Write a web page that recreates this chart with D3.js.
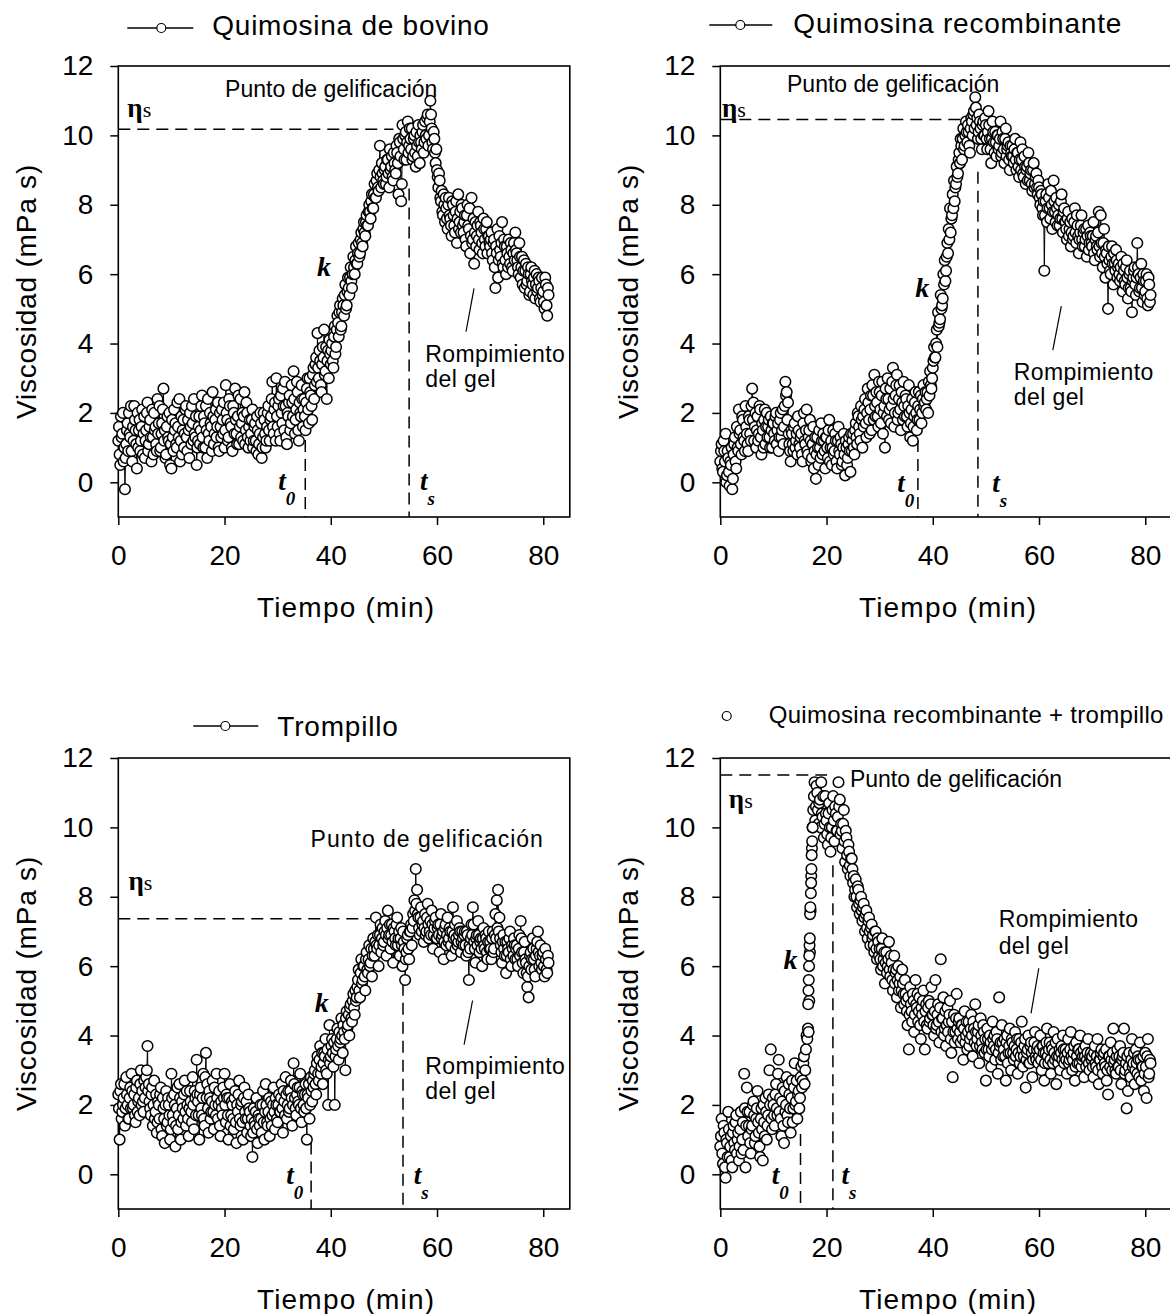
<!DOCTYPE html>
<html>
<head>
<meta charset="utf-8">
<script src="https://cdn.jsdelivr.net/npm/d3@7"></script>
<style>
  body { margin: 0; background: #fff; }
  svg text { fill: #000; }
</style>
</head>
<body>
<svg id="fig" width="1170" height="1314"></svg>
<script>
// lecturas cada 0.25 min (serie A, desde t=0) y serie B desplazada 0.125 min
const PASO_MIN = 0.25;
const DESFASE_B = 0.125;
const ticksTiempo = [0, 20, 40, 60, 80];
const ticksVisc = [0, 2, 4, 6, 8, 10, 12];

const visBovino = [
  1.2,0.8,1.9,1.4,0.6,-0.2,1.1,1.7,2.0,1.3,0.9,1.6,2.2,1.5,0.4,1.0,1.8,1.2,2.1,1.4,
  0.7,1.5,2.3,1.1,1.8,0.6,1.3,2.0,1.6,0.9,1.4,2.2,1.0,1.7,2.7,1.5,0.8,1.9,1.2,0.5,
  0.4,1.3,2.1,1.7,1.0,1.6,2.4,1.2,0.8,1.8,1.4,2.2,0.9,1.5,2.0,1.1,1.7,2.4,1.3,0.5,
  1.2,1.9,1.5,2.5,1.0,1.7,2.2,0.7,1.4,2.0,1.6,2.6,1.1,1.8,1.3,2.3,0.9,1.6,2.1,1.4,
  1.0,2.8,1.8,1.3,2.2,1.6,0.9,2.0,2.7,1.4,1.9,1.1,2.4,1.7,1.2,2.6,1.5,2.0,1.0,1.8,
  1.4,2.1,1.2,1.7,0.9,1.5,1.1,2.0,0.7,1.3,1.8,1.0,1.6,2.2,1.2,1.9,2.9,1.4,2.3,3.0,
  1.6,2.4,1.2,2.0,2.7,1.5,2.2,1.1,1.9,2.5,1.7,2.3,3.2,1.4,2.1,2.6,1.2,2.0,2.8,1.6,
  2.4,1.5,2.7,2.1,3.0,2.5,1.8,3.3,2.8,3.6,4.3,3.0,3.5,2.6,3.9,4.4,3.2,2.4,3.8,4.1,
  3.4,4.0,3.3,4.5,3.9,4.8,4.2,5.1,4.5,5.3,4.8,5.7,5.1,5.9,5.4,6.2,5.6,6.5,6.0,6.8,
  6.3,6.9,6.6,7.2,6.8,7.5,7.1,7.7,7.4,8.0,7.6,8.3,7.9,8.6,8.2,8.9,8.4,9.7,8.5,8.9,
  8.6,9.1,8.8,9.3,8.5,9.0,9.4,8.7,9.2,8.9,9.5,8.3,9.8,8.1,10.3,9.6,10.0,9.3,10.4,9.7,
  9.9,10.2,9.4,10.0,9.1,9.7,10.3,9.2,9.8,10.1,9.5,10.4,9.9,10.6,10.0,11.0,10.2,9.6,9.9,9.2,
  9.0,8.5,8.7,8.1,7.8,8.3,7.5,7.9,7.3,8.2,7.6,7.1,8.0,7.4,7.8,6.9,8.3,7.5,7.2,7.9,
  7.2,7.7,6.8,8.0,7.3,6.6,8.2,7.0,6.3,7.5,7.1,7.8,6.7,7.4,6.9,7.6,7.0,7.3,6.6,7.1,
  6.8,7.2,6.4,7.0,5.6,6.6,5.9,7.1,6.5,7.5,6.2,6.8,6.0,6.6,7.0,6.3,6.7,6.1,6.9,7.2,
  6.6,6.2,6.9,5.9,6.5,6.1,5.6,6.3,5.8,6.0,5.5,6.2,5.7,5.9,5.3,6.0,5.6,5.8,5.2,5.9,
  5.5,5.0,5.7,4.8,5.4
];
const visBovinoB = [
  1.6,0.5,1.3,2.0,1.0,0.7,1.5,0.9,1.4,2.2,0.6,1.2,1.8,1.1,2.0,1.5,0.9,1.6,0.8,1.9,
  1.2,2.0,0.9,1.6,1.3,2.1,0.8,1.5,1.1,2.4,1.7,0.9,1.4,2.1,1.2,0.7,1.6,1.3,2.0,1.1,
  1.8,0.9,1.5,1.1,2.3,1.3,0.6,1.9,1.5,1.0,2.1,1.3,1.8,0.7,1.6,2.2,1.2,1.4,1.9,1.0,
  1.6,1.1,2.2,1.3,1.9,1.0,1.5,2.4,1.2,1.7,0.9,1.9,1.4,2.1,1.6,1.0,2.0,1.3,1.8,2.3,
  1.5,2.0,1.2,2.4,1.7,1.0,2.2,1.4,1.8,1.1,2.5,1.6,1.3,2.0,1.9,1.1,2.3,1.3,1.6,1.2,
  1.8,1.0,1.6,1.2,1.9,0.8,1.4,1.7,1.0,2.0,1.4,1.2,2.0,1.5,1.8,2.4,1.6,2.1,1.2,1.9,
  2.2,1.4,2.5,1.7,2.2,2.9,1.3,2.0,2.3,1.5,2.8,1.9,2.4,1.8,2.9,1.5,2.3,1.9,2.4,2.1,
  1.9,2.3,3.0,1.7,2.6,2.2,3.1,2.4,3.4,2.9,3.3,3.8,2.8,3.4,3.6,3.1,3.9,3.5,3.0,3.7,
  3.8,3.5,4.2,3.7,4.4,4.6,4.9,4.4,4.9,5.1,5.4,5.0,5.5,5.6,5.9,5.8,6.0,6.2,6.4,6.3,
  6.6,6.5,7.0,6.9,7.3,7.2,7.5,7.4,7.8,7.8,8.1,7.9,8.3,8.2,8.7,8.5,9.0,8.8,9.2,8.7,
  9.0,8.6,9.3,8.9,9.6,9.1,8.8,9.5,9.0,9.7,9.2,9.9,9.4,8.6,9.9,9.3,10.1,9.8,9.5,10.2,
  9.6,9.3,9.9,9.5,10.1,9.4,9.8,10.0,9.6,10.3,9.8,10.0,10.5,9.7,10.4,10.6,9.8,10.1,9.5,9.6,
  8.8,8.9,8.2,8.4,7.7,8.0,8.2,7.6,8.0,7.7,7.4,8.1,7.7,7.2,8.1,7.6,7.3,7.8,8.0,7.4,
  7.5,7.0,7.7,7.4,7.9,7.1,6.9,7.6,7.2,6.8,7.4,7.0,7.5,7.2,6.6,7.3,6.8,7.5,7.1,6.9,
  7.0,6.6,6.9,6.2,6.8,7.3,6.4,6.7,6.9,6.3,7.0,6.4,6.8,6.2,6.5,6.9,6.2,6.6,6.4,6.7,
  6.4,6.0,6.5,6.2,5.7,6.4,6.1,5.7,6.2,5.4,6.0,5.8,5.4,6.1,5.7,5.5,5.9,5.3,5.6,5.4,
  5.2,5.9,5.1,5.6
];

const visRecombinante = [
  0.6,1.1,0.3,0.9,1.4,0.2,0.7,-0.1,0.5,-0.2,0.8,1.3,0.4,1.0,2.1,1.5,0.8,1.8,1.2,2.2,
  1.4,0.9,1.8,1.2,2.7,2.3,1.6,1.0,1.9,1.4,2.1,0.8,1.5,1.8,1.1,2.0,1.6,1.3,1.9,1.0,
  1.7,1.2,2.0,1.5,0.9,1.8,1.3,2.1,1.6,2.9,2.6,2.3,1.1,0.6,1.4,0.9,1.7,1.2,0.8,1.5,
  1.0,1.4,0.6,2.0,1.1,2.1,0.8,1.5,1.2,0.7,1.6,0.9,0.1,1.3,0.5,1.0,1.7,0.8,1.2,0.4,
  1.3,0.7,1.8,1.0,0.5,1.5,0.9,1.2,0.4,1.6,0.8,1.1,0.6,1.4,0.2,1.0,0.7,1.3,0.3,0.9,
  1.4,0.8,1.7,1.1,1.9,1.4,2.2,1.0,1.6,2.4,1.3,2.7,1.8,2.1,1.5,2.5,3.1,1.9,2.3,1.6,
  2.6,1.7,2.9,2.0,1.0,2.4,3.0,1.8,2.7,2.2,3.3,1.6,2.5,3.1,2.0,2.8,1.5,2.3,2.9,1.9,
  2.4,1.6,2.8,1.3,2.1,1.2,1.9,2.6,1.5,2.2,1.8,2.5,2.0,2.8,2.3,2.1,2.6,2.9,3.2,2.7,
  3.3,3.9,3.6,4.4,4.9,4.6,5.4,5.1,6.0,6.4,6.1,6.9,7.3,7.9,7.6,8.3,8.7,8.5,9.1,8.9,
  9.5,9.9,9.3,10.2,9.7,10.4,9.8,10.1,9.5,10.5,10.0,10.7,11.1,10.3,9.9,10.6,10.2,9.6,10.4,10.0,
  10.3,9.6,10.7,9.9,9.2,10.4,9.8,10.1,9.4,10.0,9.7,10.4,9.5,9.9,9.2,10.2,9.6,9.8,9.0,9.5,
  9.7,9.2,9.9,9.0,9.5,8.8,9.8,9.3,8.9,9.4,8.6,9.1,9.5,8.7,9.0,8.4,9.2,8.6,8.9,8.3,
  8.5,8.0,8.3,7.7,6.1,8.1,7.5,8.6,7.9,8.4,7.3,8.7,7.8,8.2,7.4,8.0,7.6,8.3,7.2,7.9,
  7.5,7.0,7.8,7.3,6.8,7.6,7.1,7.9,6.9,7.4,6.6,7.2,7.7,6.8,7.3,7.0,6.5,7.4,6.9,7.1,
  6.8,7.5,6.4,7.1,6.7,7.8,6.5,6.9,6.2,7.3,5.9,6.6,5.0,6.4,6.0,6.8,5.7,6.3,6.7,5.9,
  6.3,5.8,6.5,5.5,6.1,5.7,6.4,5.3,6.0,5.6,4.9,5.9,6.2,5.4,6.9,6.0,5.6,6.3,5.2,5.8,
  5.5,6.0,5.1,5.7,5.4
];
const visRecombinanteB = [
  0.9,0.4,1.2,0.6,0.0,0.9,0.3,0.6,1.0,0.1,1.1,0.6,1.6,0.9,1.4,1.1,1.9,1.3,0.9,1.6,
  1.1,1.9,1.4,2.2,1.8,1.2,2.0,1.5,1.2,2.2,1.3,1.7,1.0,2.1,1.6,1.3,1.8,1.0,1.5,1.7,
  1.4,1.9,1.1,1.7,1.3,2.0,1.5,1.1,2.2,2.5,1.8,1.4,0.9,1.5,1.1,1.6,1.0,1.4,1.9,1.1,
  1.3,0.8,1.7,1.2,1.5,0.9,1.3,1.8,0.6,1.1,0.4,1.3,0.8,1.0,1.5,0.7,1.2,1.4,0.9,1.3,
  1.0,1.5,0.6,1.2,1.0,0.8,1.4,0.6,1.2,0.9,1.3,0.5,1.0,0.8,1.2,0.5,1.1,0.9,1.4,1.2,
  1.0,1.5,1.3,2.0,1.6,1.2,1.8,1.9,2.1,1.7,2.0,2.3,1.4,2.5,2.8,1.8,2.2,2.6,1.9,2.9,
  2.1,2.5,1.4,2.2,2.7,1.9,2.4,2.1,1.7,2.9,2.4,2.0,2.8,1.8,2.4,2.1,2.6,1.8,2.2,2.5,
  1.9,2.2,2.0,1.7,2.4,1.6,2.3,2.0,1.8,2.6,2.1,1.7,2.4,2.2,2.6,2.4,2.0,2.5,2.8,3.0,
  3.5,3.6,4.0,3.9,4.5,4.7,5.0,5.3,5.7,5.8,6.5,6.6,7.0,7.2,7.7,7.9,8.1,8.6,8.8,9.3,
  9.2,9.7,9.9,9.6,10.0,10.1,10.3,9.7,10.2,10.4,10.6,10.2,10.8,10.5,10.1,10.4,9.9,10.3,10.0,10.5,
  9.9,10.1,10.3,9.6,9.9,10.1,9.5,9.8,10.0,9.6,9.9,9.4,10.1,9.6,9.9,9.4,9.7,9.3,9.7,9.4,
  9.4,9.6,9.3,9.5,9.1,9.3,9.0,9.6,8.8,9.1,9.0,8.7,9.2,8.9,8.6,9.0,8.5,8.8,8.5,8.7,
  8.2,8.4,7.9,8.1,7.7,8.3,7.9,8.2,7.6,8.0,7.8,8.1,7.5,7.9,7.7,7.4,8.1,7.6,7.8,7.5,
  7.3,7.6,7.1,7.5,7.2,7.0,7.5,7.2,7.7,7.1,7.0,7.4,7.0,7.2,6.8,7.3,7.1,6.7,7.2,6.9,
  7.1,6.6,7.0,6.8,7.2,6.8,7.7,6.6,6.9,6.5,6.7,6.3,6.8,6.1,6.5,6.3,6.6,6.1,6.4,6.2,
  6.0,6.2,5.9,6.3,5.8,6.2,5.9,5.6,6.1,5.5,5.8,6.1,5.7,5.9,6.2,5.5,5.9,5.6,6.0,5.4,
  5.8,5.3,5.9,5.2
];

const visTrompillo = [
  2.3,1.0,2.6,1.8,2.2,1.4,2.8,2.0,1.6,2.5,2.9,1.9,2.3,1.5,2.7,2.1,1.7,3.0,2.4,1.8,
  2.2,2.8,3.7,2.6,1.9,2.3,1.4,2.7,1.8,1.2,2.1,1.6,2.5,1.1,1.9,0.9,2.4,1.5,2.0,1.0,
  2.9,1.7,2.3,0.8,1.9,1.3,2.6,1.0,2.1,1.6,2.7,1.4,2.0,1.1,2.4,1.8,2.8,1.3,2.2,3.3,
  2.1,1.0,2.5,1.7,2.9,1.4,3.5,2.6,1.2,2.2,1.8,2.7,1.3,2.0,2.9,1.6,2.4,1.1,1.9,2.5,
  2.9,1.5,2.2,1.0,2.6,1.7,2.0,1.3,2.4,0.9,1.8,2.7,1.4,2.1,1.0,2.5,1.6,1.2,2.3,1.8,
  1.1,0.5,1.9,1.4,2.2,0.9,1.6,2.0,1.2,2.4,1.0,2.6,1.5,1.8,1.1,2.1,1.7,2.5,1.3,2.0,
  1.5,2.3,1.8,2.6,1.2,2.1,2.8,1.6,2.4,1.9,2.7,1.4,3.2,2.2,1.7,2.5,2.0,2.9,1.5,2.3,
  1.8,2.6,1.0,2.2,1.6,2.8,2.1,2.5,3.0,2.3,3.4,2.7,3.7,3.1,2.6,3.5,3.9,2.9,2.0,4.3,
  3.4,3.9,3.1,2.0,3.6,4.2,3.3,3.8,4.5,3.5,4.1,3.0,4.7,4.3,4.0,4.9,4.4,5.2,4.6,5.0,
  5.4,5.9,5.1,6.2,5.6,6.0,5.3,6.4,5.8,6.6,6.1,5.7,6.8,6.3,7.4,6.5,6.0,6.9,6.4,7.1,
  6.7,7.3,6.3,7.6,6.9,6.5,7.2,6.1,7.0,6.6,7.4,6.8,6.3,7.1,6.0,6.7,5.6,6.4,6.9,6.2,
  7.0,6.6,7.5,7.9,8.8,8.2,7.4,6.9,7.7,7.2,6.7,7.5,7.0,7.8,6.8,7.3,7.6,6.5,7.1,7.4,
  6.8,7.2,6.4,7.5,6.9,6.2,7.1,6.6,7.4,6.8,7.0,6.3,7.7,6.9,6.5,7.3,6.7,7.1,6.4,7.0,
  6.6,7.0,6.3,6.9,5.6,6.5,7.2,7.7,6.7,6.1,6.9,7.3,6.4,6.8,6.0,7.1,6.5,6.8,6.2,7.0,
  6.7,6.2,7.0,6.5,7.5,7.9,8.2,7.4,6.6,6.1,6.9,6.3,5.8,6.7,6.4,7.0,6.0,6.5,6.8,6.2,
  6.6,6.0,6.9,7.3,6.4,5.8,6.7,6.1,5.4,5.1,6.3,5.9,6.8,6.2,5.7,6.5,7.0,6.0,6.6,5.9,
  6.4,5.7,6.2,5.8,6.1
];
const visTrompilloB = [
  1.9,2.4,1.6,2.0,2.6,1.9,2.3,1.6,2.2,1.9,2.4,2.0,1.7,2.5,1.8,2.2,2.6,2.0,2.1,2.7,
  2.5,3.0,2.4,2.1,1.7,2.5,2.0,1.6,2.3,1.5,2.0,2.3,1.3,2.2,1.6,2.0,1.4,2.2,1.7,1.3,
  2.2,1.5,2.0,1.4,2.5,1.7,2.2,1.5,1.9,2.3,1.8,2.4,1.6,1.9,2.1,1.5,2.0,2.4,1.7,2.3,
  1.7,2.3,1.9,2.2,1.6,2.8,2.2,1.9,2.4,1.6,2.1,1.8,2.5,1.7,2.2,2.0,1.4,2.1,1.7,2.2,
  2.0,2.3,1.7,2.2,1.4,2.1,1.6,2.2,1.5,2.0,2.3,1.6,2.0,1.5,2.2,1.8,2.1,1.6,1.9,1.4,
  1.6,1.2,1.5,1.8,1.3,1.7,1.4,1.6,2.0,1.5,1.8,2.0,1.4,2.2,1.6,1.4,2.0,1.8,2.2,1.6,
  2.0,1.8,2.2,1.9,2.4,1.7,2.3,2.0,1.8,2.4,2.2,2.0,2.6,1.9,2.3,2.1,2.5,1.9,2.4,2.0,
  2.3,1.9,2.3,2.6,2.0,2.4,2.7,2.9,2.6,3.2,2.9,3.3,2.9,3.5,3.2,3.4,3.0,3.6,3.3,3.2,
  3.7,3.5,3.8,3.4,3.9,3.7,4.1,3.9,4.0,4.3,3.9,4.5,4.2,4.6,4.8,4.5,5.0,4.8,5.3,5.1,
  5.6,5.3,5.8,5.5,6.0,5.7,6.2,5.9,6.2,6.0,6.5,6.3,6.5,6.7,6.6,6.9,6.6,7.2,6.8,6.6,
  7.0,6.9,7.1,6.8,7.2,6.9,6.7,7.1,6.8,7.2,6.6,7.0,6.8,6.6,7.0,6.5,6.2,6.8,6.5,7.0,
  7.2,7.1,7.3,7.6,7.8,7.5,7.1,7.4,7.0,7.3,7.1,6.9,7.4,7.2,7.0,6.9,7.2,6.9,7.3,6.8,
  7.1,6.9,7.2,6.8,7.0,6.7,7.2,6.9,6.7,7.1,6.6,7.0,6.8,7.2,6.8,6.6,6.9,7.0,6.7,6.8,
  6.9,6.6,7.0,6.4,6.6,6.8,6.9,7.2,6.5,6.8,6.6,6.9,6.7,6.5,6.8,6.6,6.9,6.4,6.7,6.5,
  6.5,6.8,6.4,6.9,6.8,7.1,7.0,6.8,6.4,6.7,6.5,6.7,6.3,6.5,6.8,6.2,6.6,6.3,6.6,6.5,
  6.2,6.5,6.3,6.8,6.1,6.4,6.2,5.8,5.7,6.0,6.4,6.2,6.5,5.9,6.3,6.7,6.4,6.3,6.1,6.3,
  6.0,6.5,5.9,6.3
];

const visMezcla = [
  0.8,1.6,0.3,1.2,-0.1,0.9,1.8,0.5,1.1,0.2,1.4,0.7,1.7,1.0,0.4,1.3,0.6,1.5,2.9,0.2,
  2.5,1.1,1.8,0.6,1.4,2.1,0.9,1.6,2.4,1.2,0.5,1.9,0.4,1.5,2.2,1.0,1.7,3.0,3.6,1.3,
  2.0,1.4,2.6,1.7,3.3,2.2,1.1,2.5,0.9,1.8,2.8,1.5,2.3,1.2,2.7,1.9,3.2,2.1,1.6,2.4,
  2.2,3.1,2.7,3.4,3.0,4.0,4.2,5.0,7.6,9.4,10.5,11.3,10.6,11.0,10.1,10.8,11.3,10.3,9.7,10.9,
  10.2,9.5,10.7,9.3,10.0,10.9,9.6,10.4,9.9,11.3,10.8,10.1,9.4,10.5,9.0,9.7,8.8,9.3,8.6,9.1,
  8.4,8.0,8.5,7.7,8.2,7.5,8.0,7.3,7.8,7.0,7.6,6.8,7.4,6.6,7.2,6.9,6.4,7.0,6.2,6.7,
  6.5,5.9,6.8,6.2,5.5,6.4,6.0,6.7,5.7,6.1,5.3,6.3,5.8,5.1,6.0,5.5,4.8,5.9,5.2,5.6,
  5.0,4.3,3.6,5.4,4.7,5.2,4.1,5.6,4.8,4.4,5.1,3.9,4.6,5.3,3.6,4.9,4.2,5.0,4.5,5.4,
  4.6,4.0,5.6,4.3,4.9,3.8,6.2,4.5,5.1,4.2,3.7,4.8,4.4,5.0,3.5,2.8,4.6,4.1,5.2,3.9,
  4.5,3.8,4.3,3.3,4.7,4.0,3.6,4.4,3.9,4.6,3.4,4.2,4.9,3.7,4.1,3.2,4.5,3.8,4.3,3.5,
  2.7,4.2,3.6,4.0,3.1,4.4,3.7,3.3,4.1,2.9,5.1,3.8,4.3,3.4,3.9,2.7,4.0,3.5,4.2,3.0,
  3.8,3.3,4.1,3.6,2.9,3.9,3.4,4.4,3.1,3.7,2.5,3.5,4.0,3.2,3.8,2.8,3.6,4.1,3.3,3.7,
  3.4,4.0,3.0,3.7,2.7,3.5,4.2,3.2,3.8,2.9,3.6,4.1,3.3,2.6,3.9,3.4,3.0,3.7,4.0,3.2,
  3.6,2.9,3.9,3.3,4.1,3.0,3.5,2.7,3.8,3.2,3.6,4.0,3.1,3.4,2.8,3.7,3.3,3.9,3.0,3.5,
  3.4,2.8,3.7,3.1,3.9,2.6,3.3,3.6,2.9,3.5,3.1,2.7,2.3,3.4,3.8,3.0,4.2,3.3,2.9,3.6,
  3.1,3.7,2.6,3.4,4.2,3.0,1.9,2.4,3.5,2.8,3.9,3.2,2.6,3.6,2.9,3.3,3.8,2.7,3.1,2.4,
  3.5,2.2,3.9,2.9,3.2
];
const visMezclaB = [
  1.1,0.6,1.4,0.2,1.0,0.5,1.3,0.8,0.4,1.2,0.9,1.5,0.6,1.2,0.8,1.8,1.0,0.7,1.9,1.4,
  1.8,1.4,0.9,1.3,2.0,1.7,1.1,1.9,1.5,0.8,1.6,1.3,2.0,1.1,1.8,1.4,2.3,2.0,1.6,2.2,
  1.7,2.3,1.9,2.9,1.8,1.6,2.1,1.4,2.4,2.0,1.7,2.6,1.9,2.2,1.5,2.5,2.0,2.7,2.3,1.9,
  2.8,2.5,3.2,2.6,3.6,3.9,4.1,6.4,8.6,10.0,10.9,10.2,11.2,10.5,10.7,10.0,10.4,10.9,10.1,10.4,
  9.8,10.4,10.0,9.7,10.5,10.2,10.6,9.9,10.3,10.6,9.8,9.9,10.1,9.6,9.9,9.2,9.5,8.9,9.1,8.8,
  8.6,8.2,8.0,8.3,7.8,7.9,7.6,7.7,7.4,7.5,7.1,7.3,7.0,7.1,6.8,6.6,7.0,6.5,6.8,6.3,
  6.2,6.5,6.0,6.4,6.1,5.8,6.2,5.9,6.3,5.6,5.9,5.5,5.9,5.6,5.3,5.7,5.3,5.5,4.9,5.2,
  4.7,5.1,4.6,4.9,4.4,5.0,4.6,4.9,5.2,4.7,4.3,4.8,5.0,4.4,4.7,4.3,4.8,4.4,4.9,4.6,
  4.3,4.7,4.2,4.6,4.4,4.8,4.1,4.5,4.0,4.7,4.3,4.1,4.6,3.9,4.4,4.1,3.8,4.5,4.2,4.4,
  4.1,4.3,3.9,4.2,3.8,4.4,4.1,3.7,4.2,4.0,4.4,3.8,4.1,3.9,4.3,3.7,4.0,3.6,4.1,3.9,
  3.6,3.9,3.4,3.8,3.6,3.9,4.0,3.6,3.9,3.5,3.7,3.3,3.8,3.6,3.4,3.8,3.2,3.7,3.5,3.9,
  3.5,3.7,3.4,3.9,3.5,3.2,3.8,3.6,3.4,3.9,3.3,3.6,3.2,3.7,3.5,3.3,3.8,3.4,3.6,3.2,
  3.6,3.3,3.7,3.5,3.2,3.8,3.4,3.6,3.3,3.7,3.2,3.5,3.8,3.4,3.2,3.6,3.5,3.3,3.6,3.4,
  3.3,3.5,3.2,3.6,3.4,3.3,3.7,3.1,3.4,3.6,3.2,3.5,3.3,3.6,3.4,3.1,3.5,3.2,3.4,3.3,
  3.1,3.5,3.2,3.4,3.0,3.3,3.5,3.1,3.4,3.2,3.6,3.0,3.4,3.1,3.3,3.5,3.2,3.0,3.4,3.1,
  3.4,3.0,3.3,3.5,2.9,3.2,3.4,3.1,2.9,3.3,3.1,3.5,3.0,3.2,3.4,2.8,3.3,3.1,3.4,2.9,
  3.1,3.4,2.8,3.3
];

// lecturas mas seguidas durante la subida rapida (mezcla)
const mezclaSubidaT = [16.55,16.6,16.65,16.7,16.75,16.8,16.85,16.9,16.95,17.05,17.1,17.15,17.2,17.3,17.4];
const mezclaSubidaV = [4.9,5.3,5.6,6.0,6.3,6.6,6.8,7.5,7.7,8.1,8.4,8.8,9.2,9.6,10.0];

const nombres = ["Quimosina de bovino", "Quimosina recombinante", "Trompillo",
                 "Quimosina recombinante + trompillo"];
const etaS = [10.18, 10.46, 7.37, 11.51];   // viscosidad en el punto de gelificacion
const tInicio = [35.2, 37.2, 36.3, 15.1];   // t0
const tGel = [54.75, 48.5, 53.6, 21.2];     // ts

// ---------- layout ----------
const SANS = "'Liberation Sans', Arial, sans-serif";
const SERIF = "'Liberation Serif', 'DejaVu Serif', serif";
const W = 451.5, H = 451;
const paneles = [
  { serie: visBovino, serieB: visBovinoB, linea: true, x0: 118.3, y0: 66,
    ley: { l1: 9, l2: 75, ly: -38, cx: 43, tx: 94, ty: -31, fs: 28, ls: 0.75 },
    punto: [20.1, 11.1, 0], eta: [1.7, 10.54, 51.8], tsTop: 8.47, t0Top: 1.22,
    k: [37.4, 5.95], t0L: [30.1, -0.22], tsL: [56.8, -0.22],
    romp: [57.8, 3.48, 2.76], ptr: [66.97, 5.59, 65.46, 4.34] },
  { serie: visRecombinante, serieB: visRecombinanteB, linea: true, x0: 720.3, y0: 66,
    ley: { l1: -11, l2: 52, ly: -41, cx: 20, tx: 73, ty: -33, fs: 28, ls: 0.8 },
    punto: [12.56, 11.26, 0], eta: [0.3, 10.54, 46.8], tsTop: 8.95, t0Top: 1.22,
    k: [36.7, 5.33], t0L: [33.3, -0.27], tsL: [51.2, -0.27],
    romp: [55.25, 2.95, 2.23], ptr: [64.2, 5.08, 62.6, 3.81] },
  { serie: visTrompillo, serieB: visTrompilloB, linea: true, x0: 118.3, y0: 758,
    ley: { l1: 75, l2: 140, ly: -32, cx: 107, tx: 159, ty: -22, fs: 28, ls: 0.8 },
    punto: [36.2, 9.44, 1.0], eta: [1.9, 8.19, 47.4], tsTop: 5.49, t0Top: 0.92,
    k: [37.0, 4.67], t0L: [31.6, -0.29], tsL: [55.6, -0.29],
    romp: [57.8, 2.89, 2.17], ptr: [66.7, 5.01, 65.1, 3.74] },
  { serie: visMezcla, serieB: visMezclaB, linea: false, x0: 720.3, y0: 758,
    ley: { l1: null, l2: null, ly: -42, cx: 6.4, tx: 48.4, ty: -35, fs: 24, ls: 0.3 },
    punto: [24.4, 11.17, 0], eta: [1.6, 10.55, 20.1], tsTop: 8.91, t0Top: 1.16,
    k: [11.9, 5.93], t0L: [9.7, -0.29], tsL: [22.8, -0.29],
    romp: [52.4, 7.13, 6.36], ptr: [59.96, 5.94, 58.5, 4.64] }
];

const svg = d3.select("#fig");

paneles.forEach((p, i) => {
  const g = svg.append("g").attr("transform", `translate(${p.x0},${p.y0})`);
  const x = d3.scaleLinear().domain([0, 85]).range([0, W]);
  const y = d3.scaleLinear().domain([-1, 12]).range([H, 0]);

  // series A y B intercaladas en orden de tiempo
  const puntos = [];
  p.serie.forEach((v, j) => {
    puntos.push({ t: j * PASO_MIN, v: v });
    if (j < p.serieB.length) puntos.push({ t: j * PASO_MIN + DESFASE_B, v: p.serieB[j] });
  });
  if (i === 3) {
    mezclaSubidaT.forEach((t, j) => puntos.push({ t: t, v: mezclaSubidaV[j] }));
  }

  // ejes
  const ejeY = d3.axisLeft(y).tickValues(ticksVisc).tickSize(8).tickSizeOuter(0).tickPadding(17);
  const ejeX = d3.axisBottom(x).tickValues(ticksTiempo).tickSize(8).tickSizeOuter(0).tickPadding(20);
  const gy = g.append("g").call(ejeY);
  const gx = g.append("g").attr("transform", `translate(0,${H})`).call(ejeX);
  [gx, gy].forEach(a => {
    a.select(".domain").remove();
    a.selectAll("line").attr("stroke", "#000").attr("stroke-width", 1.5);
    a.selectAll("text").attr("font-size", 28).style("font-family", SANS).attr("fill", "#000");
  });

  g.append("rect").attr("x", 0).attr("y", 0).attr("width", W).attr("height", H)
    .attr("fill", "none").attr("stroke", "#000").attr("stroke-width", 1.6);

  // titulos de ejes
  g.append("text").attr("transform", `translate(-82,${H / 2}) rotate(-90)`)
    .attr("text-anchor", "middle").attr("font-size", 28).attr("letter-spacing", 0.8)
    .style("font-family", SANS).text("Viscosidad (mPa s)");
  g.append("text").attr("x", W / 2 + 2).attr("y", H + 100)
    .attr("text-anchor", "middle").attr("font-size", 28).attr("letter-spacing", 1.2)
    .style("font-family", SANS).text("Tiempo (min)");

  // lineas discontinuas
  const guion = "12,7";
  g.append("line").attr("x1", x(0)).attr("x2", x(p.eta[2])).attr("y1", y(etaS[i])).attr("y2", y(etaS[i]))
    .attr("stroke", "#000").attr("stroke-width", 1.5).attr("stroke-dasharray", guion);
  g.append("line").attr("x1", x(tGel[i])).attr("x2", x(tGel[i])).attr("y1", y(p.tsTop)).attr("y2", y(-1))
    .attr("stroke", "#000").attr("stroke-width", 1.5).attr("stroke-dasharray", guion);
  g.append("line").attr("x1", x(tInicio[i])).attr("x2", x(tInicio[i])).attr("y1", y(p.t0Top)).attr("y2", y(-1))
    .attr("stroke", "#000").attr("stroke-width", 1.5).attr("stroke-dasharray", guion);

  // datos
  if (p.linea) {
    g.append("path").datum(puntos)
      .attr("d", d3.line().x(d => x(d.t)).y(d => y(d.v)))
      .attr("fill", "none").attr("stroke", "#000").attr("stroke-width", 1);
  }
  g.append("g").selectAll("circle").data(puntos).enter().append("circle")
    .attr("cx", d => x(d.t)).attr("cy", d => y(d.v)).attr("r", 5.3)
    .attr("fill", "#fff").attr("stroke", "#000").attr("stroke-width", 1.5);

  // anotaciones
  g.append("text").attr("x", x(p.punto[0])).attr("y", y(p.punto[1]))
    .attr("font-size", 23).attr("letter-spacing", p.punto[2])
    .style("font-family", SANS).text("Punto de gelificación");

  const eta = g.append("text").attr("x", x(p.eta[0])).attr("y", y(p.eta[1]))
    .style("font-family", SERIF).attr("font-size", 27);
  eta.append("tspan").attr("font-weight", "bold").text("η");
  eta.append("tspan").attr("font-size", 22).text("s");

  g.append("text").attr("x", x(p.k[0])).attr("y", y(p.k[1]))
    .style("font-family", SERIF).attr("font-size", 28)
    .attr("font-weight", "bold").attr("font-style", "italic").text("k");

  [[p.t0L, "0"], [p.tsL, "s"]].forEach(([pos, sub]) => {
    const t = g.append("text").attr("x", x(pos[0])).attr("y", y(pos[1]))
      .style("font-family", SERIF)
      .attr("font-weight", "bold").attr("font-style", "italic").attr("font-size", 27);
    t.append("tspan").text("t");
    t.append("tspan").attr("dy", 15).attr("dx", 0).attr("font-size", 19).text(sub);
  });

  g.append("text").attr("x", x(p.romp[0])).attr("y", y(p.romp[1]))
    .attr("font-size", 23).attr("letter-spacing", 0.4).style("font-family", SANS).text("Rompimiento");
  g.append("text").attr("x", x(p.romp[0])).attr("y", y(p.romp[2]))
    .attr("font-size", 23).attr("letter-spacing", 0.4).style("font-family", SANS).text("del gel");
  g.append("line").attr("x1", x(p.ptr[0])).attr("y1", y(p.ptr[1]))
    .attr("x2", x(p.ptr[2])).attr("y2", y(p.ptr[3]))
    .attr("stroke", "#000").attr("stroke-width", 1.2);

  // leyenda
  const L = p.ley;
  if (L.l1 !== null) {
    g.append("line").attr("x1", L.l1).attr("x2", L.l2).attr("y1", L.ly).attr("y2", L.ly)
      .attr("stroke", "#000").attr("stroke-width", 1.5);
  }
  g.append("circle").attr("cx", L.cx).attr("cy", L.ly).attr("r", 4.5)
    .attr("fill", "#fff").attr("stroke", "#000").attr("stroke-width", 1.2);
  g.append("text").attr("x", L.tx).attr("y", L.ty).attr("font-size", L.fs)
    .attr("letter-spacing", L.ls).style("font-family", SANS).text(nombres[i]);
});
</script>
</body>
</html>
